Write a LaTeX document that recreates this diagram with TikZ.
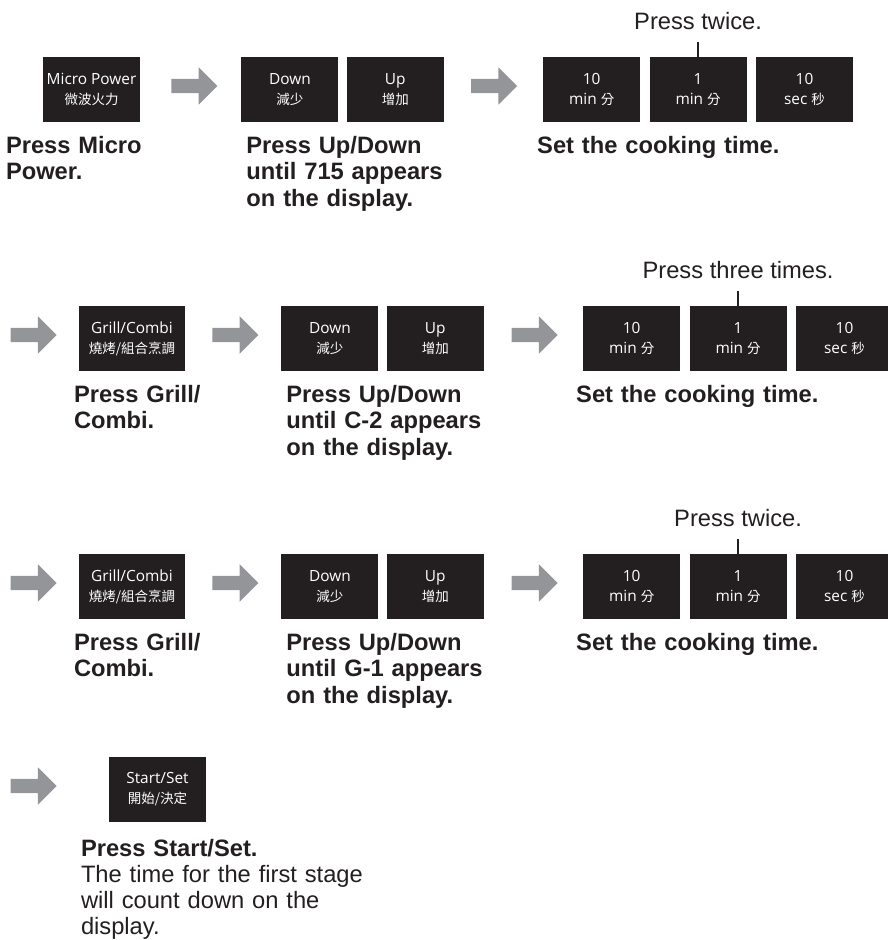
\documentclass[tikz,border=0pt]{standalone}
\usepackage{fontspec}
\setmainfont{Liberation Sans}
\newfontfamily\keyfont{Open Sans}
\newfontfamily\cjk{Noto Sans CJK TC}
\usetikzlibrary{shapes.arrows, positioning, calc}
\definecolor{keyfill}{HTML}{231F20}
\definecolor{ink}{HTML}{231F20}
\definecolor{arrowgray}{HTML}{939598}
\newcommand{\zh}[1]{{\cjk\fontsize{13.5}{20}\selectfont #1}}
\tikzset{
    key/.style={fill=keyfill, text=white, minimum width=97pt, minimum height=65pt, inner sep=0pt, align=center, font=\keyfont\fontsize{15.4}{20}\selectfont},
    widekey/.style={key, minimum width=106pt},
    go/.style={single arrow, fill=arrowgray, draw=none, minimum height=46pt, inner xsep=0pt, inner ysep=7pt, single arrow head extend=11.5pt, yshift=3.5pt},
    stepnote/.style={font=\fontsize{23.7}{26.5}\selectfont\bfseries, text=ink, text width=320pt, align=left, inner sep=0pt, anchor=base west},
    hint/.style={font=\fontsize{23.7}{26}\selectfont, text=ink, inner sep=0pt, anchor=base},
    tick/.style={draw=ink, line width=2.2pt}
}

\begin{document}
\begin{tikzpicture}[x=1pt, y=-1pt]
    \useasboundingbox (0,0) rectangle (888,940);

    % row 1
    \node (micro) [key] at (91.5,89.5) {Micro Power\\\zh{微波火力}};
    \node (down1) [key, right=101pt of micro] {Down\\\zh{減少}};
    \node (up1) [key, right=8pt of down1] {Up\\\zh{增加}};
    \node (min10a) [key, right=99pt of up1] {10\\min \zh{分}};
    \node (min1a) [key, right=9pt of min10a] {1\\min \zh{分}};
    \node (sec10a) [key, right=9pt of min1a] {10\\sec \zh{秒}};
    \node (arr1) [go] at ($(micro.east)!.5!(down1.west)$) {};
    \node (arr2) [go, xshift=-3pt] at ($(up1.east)!.5!(min10a.west)$) {};

    \coordinate (t1) at ([yshift=15pt]min1a.north);
    \draw [tick] (min1a.north) -- (t1);
    \node (n1) [hint] at ([yshift=12pt]t1) {Press twice.};

    \node (l1) [stepnote, below=31pt of micro.south west, anchor=base west, xshift=-37pt] {Press Micro\\Power.};
    \node (l2) [stepnote, below=31pt of down1.south west, anchor=base west, xshift=5pt] {Press Up/Down\\until 715 appears\\on the display.};
    \node (l3) [stepnote, below=31pt of min10a.south west, anchor=base west, xshift=-6pt] {Set the cooking time.};

    % row 2
    \node (arr3) [go] at (30,338.5) {};
    \node (grill1) [widekey] at (132,338.5) {Grill/Combi\\\zh{燒烤/組合烹調}};
    \node (down2) [key, right=96pt of grill1] {Down\\\zh{減少}};
    \node (up2) [key, right=8pt of down2] {Up\\\zh{增加}};
    \node (min10b) [key, right=99pt of up2] {10\\min \zh{分}};
    \node (min1b) [key, right=9pt of min10b] {1\\min \zh{分}};
    \node (sec10b) [key, right=9pt of min1b] {10\\sec \zh{秒}};
    \node (arr4) [go, xshift=-1.5pt] at ($(grill1.east)!.5!(down2.west)$) {};
    \node (arr5) [go, xshift=-2.5pt] at ($(up2.east)!.5!(min10b.west)$) {};

    \coordinate (t2) at ([yshift=15pt]min1b.north);
    \draw [tick] (min1b.north) -- (t2);
    \node (n2) [hint] at ([yshift=12pt]t2) {Press three times.};

    \node (l4) [stepnote, below=31pt of grill1.south west, anchor=base west, xshift=-5pt] {Press Grill/\\Combi.};
    \node (l5) [stepnote, below=31pt of down2.south west, anchor=base west, xshift=5pt] {Press Up/Down\\until C-2 appears\\on the display.};
    \node (l6) [stepnote, below=31pt of min10b.south west, anchor=base west, xshift=-7pt] {Set the cooking time.};

    % row 3
    \node (arr6) [go] at (30,586.5) {};
    \node (grill2) [widekey] at (132,586.5) {Grill/Combi\\\zh{燒烤/組合烹調}};
    \node (down3) [key, right=96pt of grill2] {Down\\\zh{減少}};
    \node (up3) [key, right=8pt of down3] {Up\\\zh{增加}};
    \node (min10c) [key, right=99pt of up3] {10\\min \zh{分}};
    \node (min1c) [key, right=9pt of min10c] {1\\min \zh{分}};
    \node (sec10c) [key, right=9pt of min1c] {10\\sec \zh{秒}};
    \node (arr7) [go, xshift=-1.5pt] at ($(grill2.east)!.5!(down3.west)$) {};
    \node (arr8) [go, xshift=-2.5pt] at ($(up3.east)!.5!(min10c.west)$) {};

    \coordinate (t3) at ([yshift=15pt]min1c.north);
    \draw [tick] (min1c.north) -- (t3);
    \node (n3) [hint] at ([yshift=12pt]t3) {Press twice.};

    \node (l7) [stepnote, below=31pt of grill2.south west, anchor=base west, xshift=-5pt] {Press Grill/\\Combi.};
    \node (l8) [stepnote, below=31pt of down3.south west, anchor=base west, xshift=5pt] {Press Up/Down\\until G-1 appears\\on the display.};
    \node (l9) [stepnote, below=31pt of min10c.south west, anchor=base west, xshift=-7pt] {Set the cooking time.};

    % row 4
    \node (arr9) [go] at (30,789.5) {};
    \node (start) [key] at (157.5,789.5) {Start/Set\\\zh{開始/決定}};
    \node (l10) [stepnote, font=\fontsize{23.7}{26}\selectfont, below=34pt of start.south west, anchor=base west, xshift=-28pt] {\textbf{Press Start/Set.}\\The time for the first stage\\will count down on the\\display.};
\end{tikzpicture}
\end{document}
